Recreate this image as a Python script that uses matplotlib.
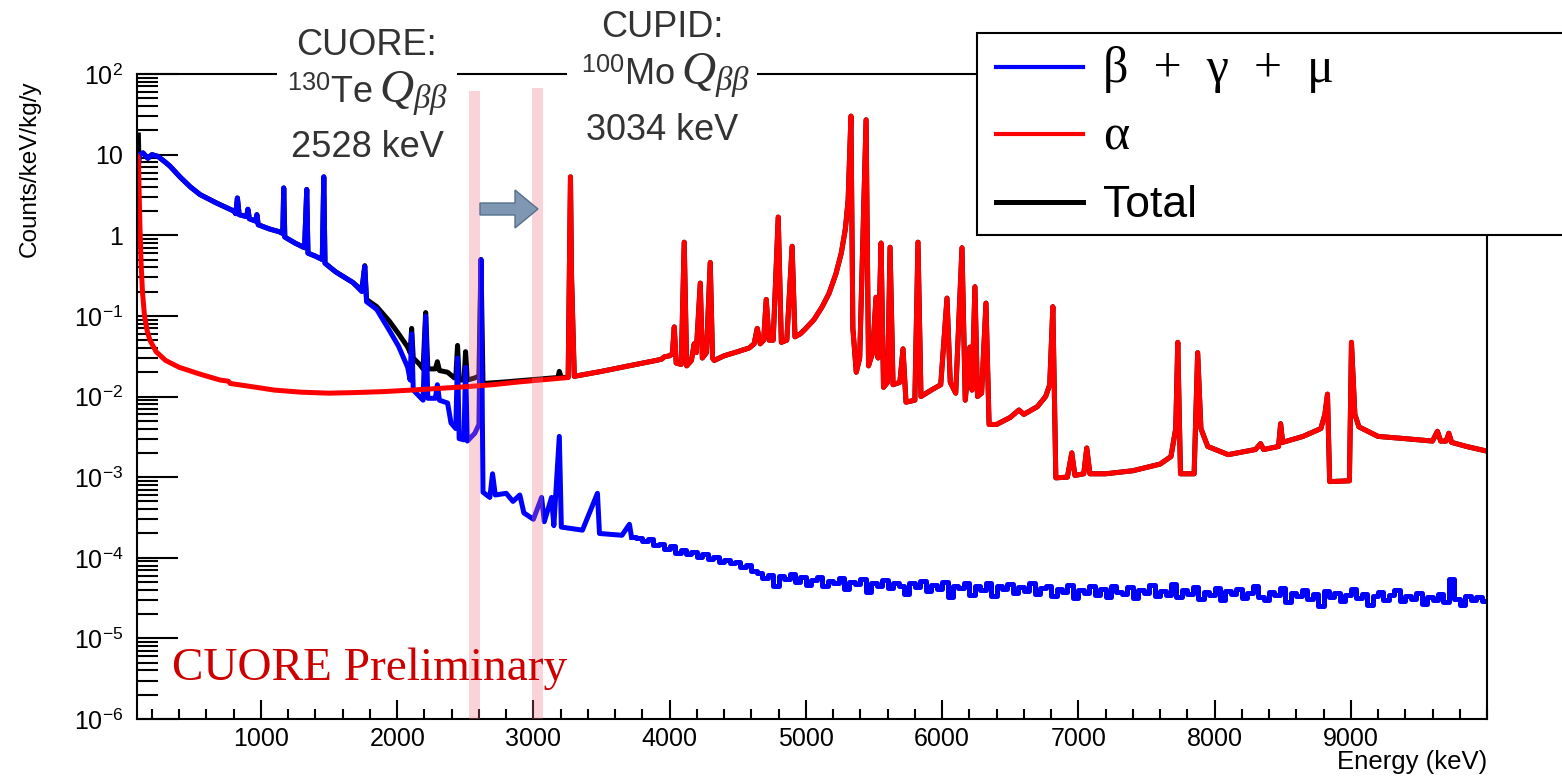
import numpy as np
import matplotlib
matplotlib.use('Agg')
from matplotlib import pyplot as plt
from matplotlib.patches import Rectangle, FancyArrow
from matplotlib.lines import Line2D
from matplotlib.ticker import LogLocator, MultipleLocator, NullFormatter

plt.rcParams['font.family'] = ['Liberation Sans', 'DejaVu Sans']
plt.rcParams['mathtext.fontset'] = 'custom'
plt.rcParams['mathtext.rm'] = 'Liberation Sans'
plt.rcParams['mathtext.it'] = 'Liberation Serif:italic'
plt.rcParams['mathtext.sf'] = 'Liberation Sans'

# alpha spectrum (keV, counts/keV/kg/y)
red_e = [95, 100, 105, 112, 120, 130, 145, 165, 185, 230, 300, 400, 550, 700, 760, 775, 900, 1100,
         1300, 1500, 1700, 1900, 2100, 2300, 2500, 2700, 2900, 3100, 3255, 3265, 3272, 3280, 3300,
         3500, 3700, 3900, 3940, 3960, 4000, 4020, 4034, 4048, 4085, 4107, 4125, 4160, 4180, 4195,
         4225, 4240, 4270, 4298, 4315, 4327, 4400, 4500, 4584, 4620, 4643, 4665, 4690, 4709, 4730,
         4760, 4797, 4820, 4860, 4899, 4920, 4960, 5000, 5060, 5120, 5170, 5220, 5260, 5290, 5310,
         5331, 5345, 5370, 5395, 5442, 5460, 5490, 5515, 5530, 5552, 5570, 5600, 5618, 5640, 5690,
         5713, 5735, 5800, 5823, 5845, 5920, 5990, 6036, 6060, 6100, 6146, 6170, 6204, 6220, 6241,
         6260, 6290, 6322, 6345, 6400, 6500, 6564, 6600, 6700, 6760, 6790, 6813, 6835, 6920, 6952,
         6975, 7040, 7062, 7085, 7200, 7400, 7600, 7680, 7715, 7730, 7750, 7850, 7876, 7900, 7950,
         8100, 8300, 8338, 8360, 8470, 8485, 8500, 8650, 8780, 8810, 8829, 8845, 8990, 9005, 9030,
         9060, 9200, 9400, 9600, 9636, 9660, 9700, 9720, 9740, 9850, 10000]
red_c = [9.5, 9, 4, 1.2, 0.45, 0.2, 0.1, 0.065, 0.05, 0.036, 0.028, 0.023, 0.019, 0.016, 0.0155,
         0.0145, 0.0135, 0.012, 0.0113, 0.011, 0.0112, 0.0115, 0.012, 0.0126, 0.0132, 0.014, 0.0152,
         0.0163, 0.0172, 0.5, 5.3, 0.3, 0.0178, 0.0205, 0.024, 0.028, 0.029, 0.031, 0.032, 0.034,
         0.073, 0.026, 0.025, 0.82, 0.024, 0.028, 0.045, 0.035, 0.255, 0.03, 0.035, 0.46, 0.03,
         0.028, 0.032, 0.036, 0.040, 0.045, 0.070, 0.045, 0.05, 0.16, 0.05, 0.05, 1.68, 0.047, 0.05,
         0.73, 0.055, 0.06, 0.07, 0.09, 0.13, 0.19, 0.33, 0.6, 1.2, 2.7, 30, 0.07, 0.02, 0.03, 27,
         0.024, 0.035, 0.17, 0.03, 0.80, 0.013, 0.015, 0.71, 0.014, 0.015, 0.039, 0.0085, 0.009,
         0.82, 0.010, 0.012, 0.014, 0.166, 0.015, 0.011, 0.70, 0.009, 0.041, 0.012, 0.23, 0.010,
         0.011, 0.144, 0.0045, 0.0045, 0.0055, 0.0068, 0.006, 0.0075, 0.010, 0.014, 0.13, 0.00098,
         0.0010, 0.0020, 0.00105, 0.0011, 0.0023, 0.0011, 0.0011, 0.0012, 0.00145, 0.0018, 0.004,
         0.047, 0.0011, 0.0011, 0.035, 0.004, 0.0024, 0.0019, 0.0022, 0.0026, 0.0022, 0.0024,
         0.0046, 0.0027, 0.0032, 0.004, 0.006, 0.0107, 0.00088, 0.0009, 0.047, 0.006, 0.0042,
         0.0032, 0.003, 0.0028, 0.0037, 0.0028, 0.0028, 0.0035, 0.0027, 0.0024, 0.0021]

# beta + gamma + mu, low energy part with the gamma lines
blue_e = [100, 110, 134, 170, 200, 244, 300, 332, 405, 480, 552, 676, 800, 815, 827, 840, 895, 904,
          915, 960, 970, 980, 1060, 1138, 1160, 1167, 1175, 1250, 1320, 1336, 1345, 1400, 1450,
          1461, 1470, 1550, 1674, 1740, 1762, 1775, 1850, 1945, 2010, 2077, 2095, 2106, 2118, 2190,
          2209, 2225, 2280, 2295, 2310, 2370, 2395, 2430, 2443, 2455, 2490, 2502, 2515, 2570, 2600,
          2615, 2630, 2680, 2700, 2720, 2800, 2850, 2900, 2930, 3000, 3060, 3080, 3133, 3150, 3190,
          3205, 3360, 3470, 3485, 3650, 3705, 3720]
blue_c = [7, 10, 10.5, 9, 10, 9.5, 8, 7.2, 5.3, 4.0, 3.2, 2.5, 2.0, 1.85, 2.9, 1.8, 1.7, 2.1, 1.6,
          1.5, 1.8, 1.35, 1.2, 1.1, 1.05, 3.86, 0.95, 0.8, 0.7, 3.7, 0.6, 0.55, 0.5, 5.3, 0.45, 0.35,
          0.26, 0.2, 0.41, 0.15, 0.12, 0.065, 0.042, 0.023, 0.016, 0.06, 0.012, 0.009, 0.099,
          0.0095, 0.0095, 0.014, 0.009, 0.0083, 0.0047, 0.004, 0.030, 0.003, 0.0029, 0.023, 0.0028,
          0.0035, 0.0045, 0.5, 0.00065, 0.00056, 0.0011, 0.0006, 0.00063, 0.0005, 0.0006, 0.00036,
          0.0003, 0.00056, 0.00028, 0.00056, 0.00025, 0.0032, 0.00024, 0.00022, 0.00063, 0.0002,
          0.00019, 0.00026, 0.00018]

# beta + gamma + mu, noisy tail (units of 1e-5), bins of 40 keV from 3780 keV
blue_tail_start, blue_tail_step = 3780, 40
blue_tail = [17.5, 16, 17, 14.5, 15, 13, 13.8, 11.5, 12.5, 11, 11.8, 10.2, 11, 9.6, 10.3, 8.8, 9.4,
             8.5, 8.9, 7.6, 8.1, 6.9, 6.4, 5.6, 6.1, 4.5, 5.9, 5.4, 6.2, 5.0, 5.7, 4.6, 5.3, 5.8,
             4.4, 5.2, 4.8, 5.6, 4.1, 5.0, 4.7, 5.4, 3.8, 4.9, 4.5, 5.3, 4.2, 4.9, 4.4, 3.6, 4.8,
             4.3, 5.2, 3.9, 4.6, 4.1, 5.0, 3.3, 4.5, 4.2, 4.9, 3.5, 4.4, 4.0, 4.8, 3.4, 4.5, 4.1,
             4.7, 3.7, 4.3, 3.9, 4.9, 3.6, 4.2, 4.5, 3.4, 4.1, 3.8, 4.6, 3.2, 4.0, 3.7, 4.4, 3.5,
             4.1, 3.3, 4.5, 3.8, 3.6, 4.3, 3.2, 4.0, 3.7, 4.6, 3.4, 3.9, 3.5, 4.7, 3.3, 4.0, 3.6,
             4.3, 3.1, 3.8, 3.5, 4.2, 3.0, 3.9, 3.6, 4.1, 3.2, 3.7, 4.4, 3.3, 3.0, 3.8, 3.5, 4.2,
             2.8, 3.7, 3.4, 4.0, 3.1, 3.6, 2.5, 3.9, 3.3, 3.7, 2.9, 3.5, 4.1, 3.2, 3.6, 2.6, 3.4,
             3.8, 3.0, 3.5, 4.0, 2.9, 3.4, 3.1, 3.7, 2.7, 3.3, 3.0, 3.6, 2.8, 5.4, 3.1, 2.6, 3.4,
             3.0, 3.3, 2.9]

# total: spike at threshold, then where it rises above beta/gamma before joining alpha
black_spike_e = [100, 104]
black_spike_c = [17.5, 9]
black_mid_e = [1740, 1762, 1775, 1850, 1945, 2010, 2077, 2095, 2106, 2118, 2165, 2190, 2209, 2225,
               2280, 2295, 2310, 2370, 2420, 2430, 2443, 2455, 2490, 2502, 2515, 2570, 2600, 2615,
               2630, 2800, 3000, 3180, 3190, 3205, 3255]
black_mid_c = [0.21, 0.42, 0.16, 0.13, 0.085, 0.06, 0.041, 0.035, 0.07, 0.03, 0.025, 0.022, 0.11,
               0.022, 0.022, 0.027, 0.021, 0.020, 0.017, 0.017, 0.043, 0.016, 0.016, 0.036, 0.016,
               0.017, 0.018, 0.5, 0.0145, 0.0152, 0.0162, 0.0172, 0.0205, 0.0172, 0.0173]

q_bands = [(2530, 2610), (2990, 3070)]
x_ticks = [1000, 2000, 3000, 4000, 5000, 6000, 7000, 8000, 9000]
y_ticks = [1e-6, 1e-5, 1e-4, 1e-3, 1e-2, 1e-1, 1, 10, 100]
y_labels = ['$10^{-6}$', '$10^{-5}$', '$10^{-4}$', '$10^{-3}$', '$10^{-2}$', '$10^{-1}$',
            '1', '10', '$10^{2}$']

W, H = 1562, 776
fig = plt.figure(figsize=(W / 100, H / 100), dpi=100)
ax = fig.add_axes([137 / W, 1 - 719 / H, (1487 - 137) / W, (719 - 74) / H])

blue_e_arr = np.array(blue_e)
red_e_arr = np.array(red_e)
low = (blue_e_arr >= 110) & (blue_e_arr < 1740)
tot_e = np.concatenate([black_spike_e, blue_e_arr[low], black_mid_e, red_e_arr[red_e_arr > 3255]])
tot_c = np.concatenate([black_spike_c, np.array(blue_c)[low], black_mid_c, np.array(red_c)[red_e_arr > 3255]])

lw = 3.6
ax.plot(tot_e, tot_c, color='black', lw=lw, zorder=2)
ax.plot(blue_e, blue_c, color='#0000ff', lw=lw, zorder=2.1)
tail_e = blue_tail_start + blue_tail_step * np.arange(len(blue_tail))
ax.plot(np.concatenate([[blue_e[-1]], tail_e]), np.concatenate([[blue_c[-1]], np.array(blue_tail) * 1e-5]),
        color='#0000ff', lw=lw, drawstyle='steps-mid', zorder=2.1)
ax.plot(red_e, red_c, color='#ff0000', lw=lw, zorder=2.2)

for (lo, hi), top in zip(q_bands, (0.974, 0.978)):
    ax.axvspan(lo, hi, ymin=0, ymax=top, color='#f07080', alpha=0.3, lw=0, zorder=4)

ax.set_yscale('log')
ax.set_xlim(90, 10000)
ax.set_ylim(1e-6, 1e2)
ax.set_xticks(x_ticks)
ax.xaxis.set_minor_locator(MultipleLocator(200))
ax.set_yticks(y_ticks, labels=y_labels)
ax.yaxis.set_minor_locator(LogLocator(base=10, subs=np.arange(2, 10)))
ax.yaxis.set_minor_formatter(NullFormatter())
ax.tick_params(which='both', direction='in', top=False, right=False, width=1.5, labelsize=18)
ax.tick_params(axis='y', which='major', length=29.5, pad=10)
ax.tick_params(axis='y', which='minor', length=15)
ax.tick_params(axis='x', which='major', length=13.7, pad=6)
ax.tick_params(axis='x', which='minor', length=7)
for sp in ax.spines.values():
    sp.set_linewidth(1.5)

fig.text(30 / W, 1 - 80 / H, 'Counts/keV/kg/y', rotation=90, ha='center', va='top', fontsize=17.5)
fig.text(1487 / W, 1 - 762 / H, 'Energy (keV)', ha='right', va='center', fontsize=18.5)

# white boxes breaking the top frame behind the Q-value labels
for x0, x1 in ((277, 457), (567, 757)):
    fig.add_artist(Rectangle((x0 / W, 1 - 90 / H), (x1 - x0) / W, 30 / H, transform=fig.transFigure,
                             fc='white', ec='none', zorder=5))

tc = '#333333'
fig.text(366 / W, 1 - 55 / H, 'CUORE:', ha='center', va='baseline', fontsize=26, color=tc, zorder=6)
fig.text(373 / W, 1 - 103 / H, '$^{130}$Te', ha='right', va='baseline', fontsize=26, color=tc, zorder=6)
fig.text(379 / W, 1 - 103 / H, r'$Q_{\beta\beta}$', ha='left', va='baseline', fontsize=34, color=tc, zorder=6)
fig.text(367 / W, 1 - 157 / H, '2528 keV', ha='center', va='baseline', fontsize=26, color=tc, zorder=6)
fig.text(662 / W, 1 - 37 / H, 'CUPID:', ha='center', va='baseline', fontsize=26, color=tc, zorder=6)
fig.text(675 / W, 1 - 85 / H, '$^{100}$Mo', ha='right', va='baseline', fontsize=26, color=tc, zorder=6)
fig.text(681 / W, 1 - 85 / H, r'$Q_{\beta\beta}$', ha='left', va='baseline', fontsize=34, color=tc, zorder=6)
fig.text(662 / W, 1 - 140 / H, '3034 keV', ha='center', va='baseline', fontsize=26, color=tc, zorder=6)

fig.add_artist(FancyArrow(4.80, (H - 209) / 100, 0.58, 0, width=0.12, head_width=0.38, head_length=0.23,
                          length_includes_head=True, transform=fig.dpi_scale_trans,
                          fc='#7f97b2', ec='#56708c', lw=1, zorder=6))

fig.text(172 / W, 1 - 680 / H, 'CUORE Preliminary', ha='left', va='baseline', fontsize=34,
         family='Liberation Serif', color='#cc0000', zorder=6)

# legend box, running off the right edge as in the original
fig.add_artist(Rectangle((977 / W, 1 - 235 / H), 0.45, 202 / H, transform=fig.transFigure,
                         fc='white', ec='black', lw=1.5, zorder=8))
for y, col, lab, fam, fs, lwid in ((67, '#0000ff', 'β  +  γ  +  μ', 'Liberation Serif', 36, 3),
                                   (134, '#ff0000', 'α', 'Liberation Serif', 36, 3),
                                   (202, 'black', 'Total', 'Liberation Sans', 32, 3.6)):
    fig.add_artist(Line2D([996 / W, 1083 / W], [1 - y / H] * 2, color=col, lw=lwid,
                          transform=fig.transFigure, zorder=9))
    fig.text(1103 / W, 1 - (y + 15) / H, lab, ha='left', va='baseline', fontsize=fs, family=fam, zorder=9)

fig.savefig('out.png', dpi=100)
